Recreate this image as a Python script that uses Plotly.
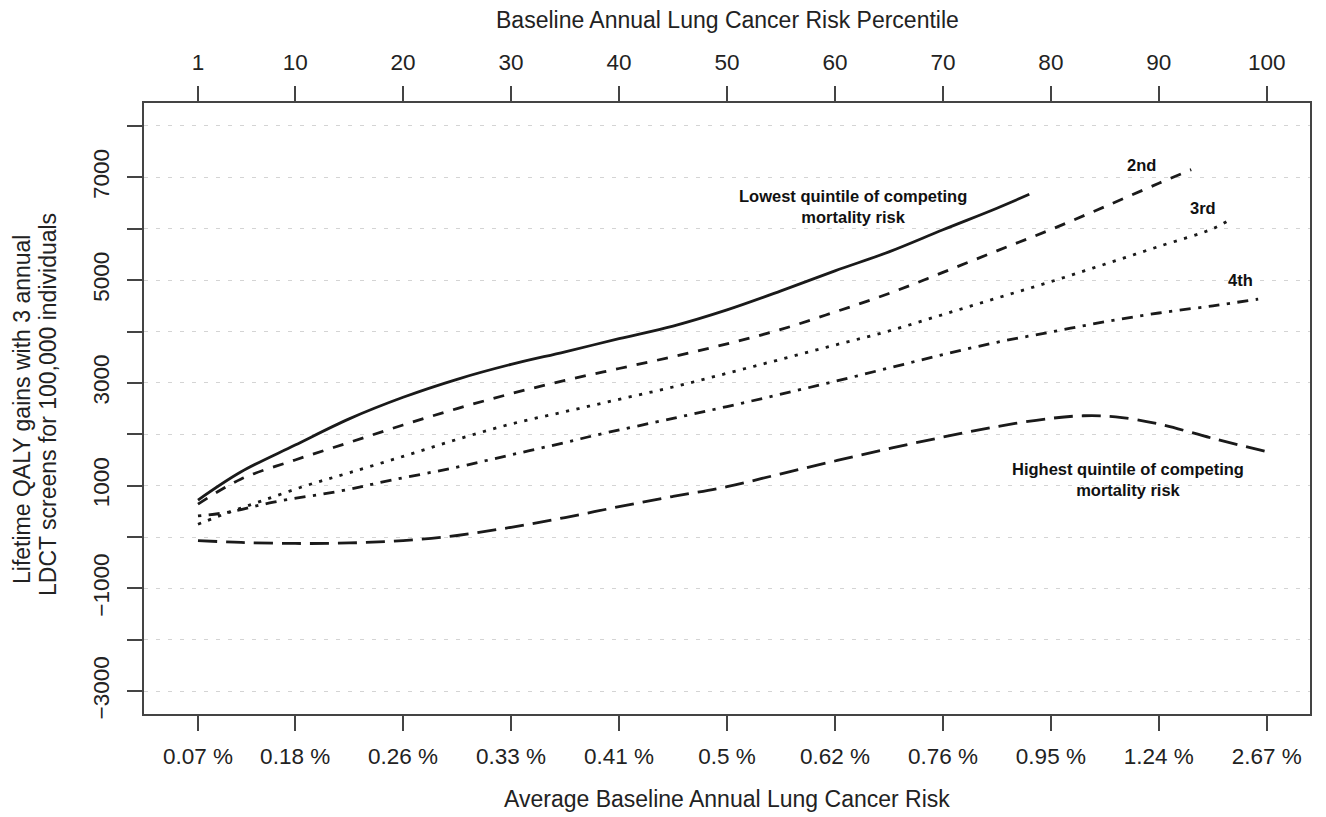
import plotly.graph_objects as go

# ---------------- data ----------------
pct_ticks = [1, 10, 20, 30, 40, 50, 60, 70, 80, 90, 100]
top_labels = ["1", "10", "20", "30", "40", "50", "60", "70", "80", "90", "100"]
bottom_labels = ["0.07 %", "0.18 %", "0.26 %", "0.33 %", "0.41 %", "0.5 %",
                 "0.62 %", "0.76 %", "0.95 %", "1.24 %", "2.67 %"]
y_ticks = [-3000, -2000, -1000, 0, 1000, 2000, 3000, 4000, 5000, 6000, 7000, 8000]
y_labels = ["\u22123000", "", "\u22121000", "", "1000", "", "3000", "", "5000", "", "7000", ""]

q1_x = [1, 5, 10, 15, 20, 25, 30, 35, 40, 45, 50, 55, 60, 65, 70, 75, 78]
q1_y = [720, 1270, 1790, 2300, 2720, 3070, 3360, 3605, 3860, 4105, 4420, 4790, 5180, 5550, 5980, 6400, 6670]

q2_x = [1, 5, 10, 15, 20, 25, 30, 35, 40, 45, 50, 55, 60, 65, 70, 75, 80, 85, 90, 93]
q2_y = [640, 1130, 1500, 1840, 2180, 2500, 2790, 3050, 3280, 3510, 3760, 4040, 4380, 4740, 5150, 5570, 5985, 6430, 6885, 7150]

q3_x = [1, 4, 7, 11, 15, 20, 25, 30, 35, 40, 45, 50, 55, 60, 65, 70, 75, 80, 85, 90, 95, 96.6]
q3_y = [250, 490, 710, 1000, 1250, 1570, 1900, 2200, 2440, 2680, 2920, 3187, 3460, 3736, 4010, 4330, 4650, 4970, 5310, 5655, 6000, 6180]

q4_x = [1, 4, 8, 14, 19, 25, 30, 35, 38.2, 45, 50, 55, 60, 65, 70, 75, 80, 85, 90, 95, 99.2]
q4_y = [410, 490, 680, 890, 1110, 1360, 1600, 1840, 2000, 2310, 2540, 2780, 3030, 3290, 3550, 3790, 3990, 4190, 4360, 4500, 4630]

q5_x = [1, 5, 10, 15, 20, 25, 30, 35, 40, 45, 50, 55, 60, 65, 70, 75, 80, 83, 86, 90, 95, 100]
q5_y = [-70, -105, -125, -115, -70, 30, 190, 380, 590, 790, 980, 1230, 1480, 1720, 1945, 2150, 2310, 2360, 2340, 2200, 1920, 1660]

# ---------------- figure ----------------
# the page body has an 8px margin: the figure is sized so the plot box lands at
# x 144..1310, y 103..714 of the 1326x817 window
OFF = 8
W, H = 1326 - OFF, 817 - OFF
PL, PR, PT, PB = 144, 1310, 103, 714
ML, MT = PL - OFF, PT - OFF
MR = W - (PR - OFF)
MB = H - (PB - OFF)
PW, PH = PR - PL, PB - PT

LW = 2.8
INK = "#1a1a1a"
TXT = "#222222"
FONT = "Liberation Sans, Arial, Helvetica, sans-serif"

series = [
    (q1_x, q1_y, "solid"),
    (q2_x, q2_y, "11px,10px"),
    (q3_x, q3_y, "3.2px,7.5px"),
    (q4_x, q4_y, "3.2px,7.5px,11px,7.5px"),
    (q5_x, q5_y, "19px,9px"),
]

fig = go.Figure()
for xs, ys, dash in series:
    fig.add_trace(go.Scatter(
        x=xs, y=ys, mode="lines",
        line=dict(color=INK, width=LW, dash=dash, shape="spline", smoothing=1.0),
        showlegend=False, hoverinfo="skip"))

# dummy trace for the top axis
fig.add_trace(go.Scatter(x=[1, 100], y=[0, 0], xaxis="x2", mode="none",
                         showlegend=False, hoverinfo="skip"))

XR = [-4, 104]
YR = [-3444, 8447]
AX = "#444444"

fig.update_layout(
    width=W, height=H,
    margin=dict(l=ML, r=MR, t=MT, b=MB, pad=0),
    paper_bgcolor="white", plot_bgcolor="white",
    font=dict(family=FONT, size=22.5, color=TXT),
    xaxis=dict(range=XR, tickmode="array", tickvals=pct_ticks, ticktext=bottom_labels,
               ticks="outside", ticklen=15, tickwidth=1.5, tickcolor=AX,
               showline=True, linecolor=AX, linewidth=1.8, mirror=False,
               showgrid=False, zeroline=False, ticklabelstandoff=6),
    xaxis2=dict(range=XR, overlaying="x", side="top", tickmode="array",
                tickvals=pct_ticks, ticktext=top_labels,
                ticks="outside", ticklen=15, tickwidth=1.5, tickcolor=AX,
                showline=True, linecolor=AX, linewidth=1.8,
                showgrid=False, zeroline=False, ticklabelstandoff=7),
    yaxis=dict(range=YR, tickmode="array", tickvals=y_ticks, ticktext=y_labels,
               tickangle=-90, ticks="outside", ticklen=15, tickwidth=1.5, tickcolor=AX,
               showline=True, linecolor=AX, linewidth=1.8, mirror=True,
               showgrid=True, gridcolor="#d4d4d4", gridwidth=1, griddash="4px,8px",
               zeroline=False, ticklabelstandoff=9),
)


def px_x(px):
    return (px - PL) / PW


def px_y(py):
    return (PB - py) / PH


# axis titles
fig.add_annotation(text="Baseline Annual Lung Cancer Risk Percentile",
                   xref="paper", yref="paper", x=0.5, y=px_y(20),
                   showarrow=False, font=dict(size=23, family=FONT, color=TXT),
                   xanchor="center", yanchor="middle")
fig.add_annotation(text="Average Baseline Annual Lung Cancer Risk",
                   xref="paper", yref="paper", x=0.5, y=px_y(799),
                   showarrow=False, font=dict(size=23, family=FONT, color=TXT),
                   xanchor="center", yanchor="middle")
fig.add_annotation(text="Lifetime QALY gains with 3 annual",
                   xref="paper", yref="paper", x=px_x(22), y=px_y(410),
                   showarrow=False, textangle=-90,
                   font=dict(size=23, family=FONT, color=TXT),
                   xanchor="center", yanchor="middle")
fig.add_annotation(text="LDCT screens for 100,000 individuals",
                   xref="paper", yref="paper", x=px_x(48), y=px_y(405),
                   showarrow=False, textangle=-90,
                   font=dict(size=23, family=FONT, color=TXT),
                   xanchor="center", yanchor="middle")

# curve labels
BOLD = dict(size=16.5, family=FONT, color="#111111", weight="bold")
labels = [
    ("Lowest quintile of competing<br>mortality risk", 61.7, 6440),
    ("2nd", 88.4, 7237),
    ("3rd", 94.1, 6400),
    ("4th", 97.6, 5000),
    ("Highest quintile of competing<br>mortality risk", 87.1, 1128),
]
for txt, lx, ly in labels:
    fig.add_annotation(text=txt, x=lx, y=ly, xref="x", yref="y", showarrow=False,
                       font=BOLD, xanchor="center", yanchor="middle", align="center")

fig.write_html("out.html")
